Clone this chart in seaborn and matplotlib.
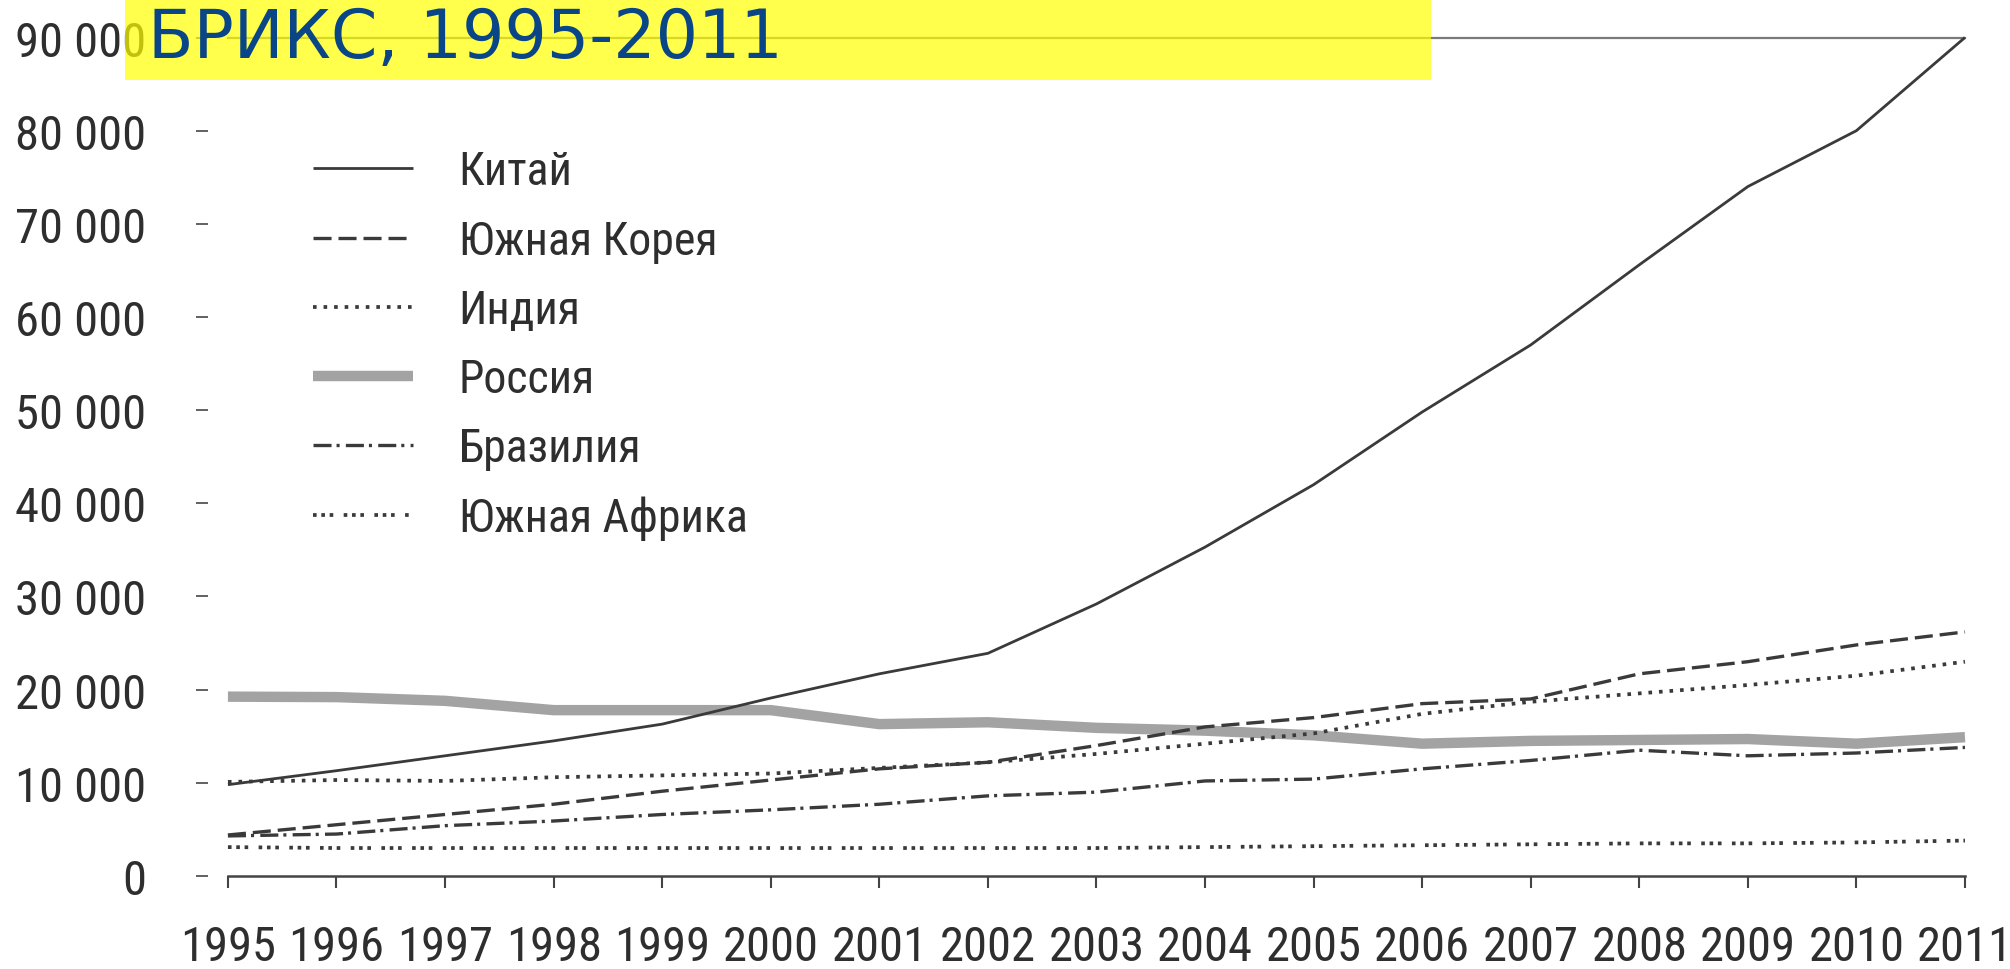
import pandas as pd
import seaborn as sns
import matplotlib.pyplot as plt
from matplotlib import font_manager as fm
from matplotlib.patches import Rectangle
from matplotlib.ticker import FuncFormatter

# --- Data ---
years = list(range(1995, 2012))

china = [9800, 11300, 12900, 14500, 16300, 19100, 21700, 23900, 29200,
         35300, 42000, 49800, 57000, 65600, 74000, 80000, 90000]
korea = [4400, 5500, 6600, 7700, 9100, 10300, 11500, 12200, 14000,
         16000, 17000, 18500, 19000, 21700, 23000, 24800, 26200]
india = [10100, 10300, 10200, 10600, 10800, 11000, 11600, 12200, 13100,
         14200, 15300, 17400, 18700, 19600, 20500, 21500, 23000]
russia = [19250, 19200, 18800, 17800, 17800, 17800, 16300, 16500, 15900,
          15600, 15100, 14200, 14500, 14600, 14700, 14200, 14900]
brazil = [4300, 4500, 5400, 5900, 6600, 7100, 7700, 8600, 9000,
          10200, 10400, 11500, 12400, 13500, 12900, 13200, 13800]
safrica = [3100, 3000, 3000, 3000, 3000, 3000, 3000, 3000, 3000,
           3100, 3200, 3300, 3400, 3500, 3500, 3600, 3800]

labels = ["Китай", "Южная Корея", "Индия", "Россия", "Бразилия", "Южная Африка"]
title = "БРИКС, 1995-2011"

df = pd.DataFrame({"year": years, "Китай": china, "Южная Корея": korea,
                   "Индия": india, "Россия": russia, "Бразилия": brazil,
                   "Южная Африка": safrica})

sns.set_theme(style="white")

# pick a narrow face if the machine has one
names = {f.name for f in fm.fontManager.ttflist}
narrow = [n for n in ["Liberation Sans Narrow", "Roboto Condensed",
                      "Open Sans Condensed", "DejaVu Sans Condensed"] if n in names]
cond_dejavu = any(f.name == "DejaVu Sans" and str(f.stretch) in ("condensed", "semi-condensed", "500")
                  for f in fm.fontManager.ttflist)
if narrow:
    plt.rcParams["font.family"] = [narrow[0], "DejaVu Sans"]
    tick_size, leg_size = 35, 33
elif cond_dejavu:
    plt.rcParams["font.family"] = ["DejaVu Sans"]
    plt.rcParams["font.stretch"] = "condensed"
    tick_size, leg_size = 27, 29
else:
    plt.rcParams["font.family"] = ["DejaVu Sans"]
    tick_size, leg_size = 24.5, 26
plt.rcParams["lines.scale_dashes"] = False

dark = "#3a3a3a"
styles = {
    "Китай":        dict(color=dark, lw=2.0, ls="-", z=5),
    "Южная Корея":  dict(color=dark, lw=2.4, ls=(0, (13, 5)), z=4),
    "Индия":        dict(color=dark, lw=2.7, ls=(0, (2.6, 5)), z=4),
    "Россия":       dict(color="#a3a3a3", lw=7.5, ls="-", z=2),
    "Бразилия":     dict(color=dark, lw=2.4, ls=(0, (13, 3.6, 2.2, 4.5)), z=4),
    "Южная Африка": dict(color=dark, lw=2.7, ls=(0, (2.6, 3.4, 2.6, 3.4, 2.6, 7.5)), z=4),
}

fig = plt.figure(figsize=(20.1, 9.7), dpi=100)
ax = fig.add_axes([0.1134, 0.0959, 0.8642, 0.8644])

for name in labels:
    st = styles[name]
    sns.lineplot(data=df, x="year", y=name, ax=ax, color=st["color"],
                 linewidth=st["lw"], linestyle=st["ls"], label=name,
                 zorder=st["z"], clip_on=False, solid_capstyle="butt")

ax.set_xlim(years[0], years[-1])
ax.set_ylim(0, 90000)
ax.set_xticks(years)
ax.set_yticks(range(0, 90001, 10000))
ax.yaxis.set_major_formatter(FuncFormatter(lambda v, p: f"{int(v):,}".replace(",", " ")))
ax.set_xlabel("")
ax.set_ylabel("")

ax.spines["right"].set_visible(False)
ax.spines["left"].set_position(("outward", 14.4))
ax.spines["left"].set_color("none")
ax.spines["bottom"].set_color("#444444")
ax.spines["bottom"].set_linewidth(1.8)
ax.spines["top"].set_color("#7a7a7a")
ax.spines["top"].set_linewidth(1.6)

ax.tick_params(axis="y", left=True, direction="out", length=8.6, width=1.3,
               color="#555555", pad=36, labelsize=tick_size, labelcolor="#2e2e2e")
ax.tick_params(axis="x", bottom=True, direction="out", length=8.6, width=1.5,
               color="#444444", pad=26, labelsize=tick_size, labelcolor="#2e2e2e")

leg = ax.legend(loc="upper left", bbox_to_anchor=(0.1557, 0.845),
                bbox_transform=fig.transFigure, frameon=False, fontsize=leg_size,
                handlelength=2.18, handletextpad=1.0, labelspacing=0.55,
                borderpad=0, borderaxespad=0)
for t in leg.get_texts():
    t.set_color("#2e2e2e")

# title on a translucent yellow band
fig.patches.append(Rectangle((0.0622, 0.9165), 0.6498, 0.0835,
                             transform=fig.transFigure, facecolor="#ffff00",
                             alpha=0.7, edgecolor="none", zorder=10))
fig.text(0.0736, 0.940, title, fontsize=48, color="#0a4687",
         family="DejaVu Sans", stretch="normal", va="baseline", ha="left", zorder=11)

fig.savefig("out.png", dpi=100)
